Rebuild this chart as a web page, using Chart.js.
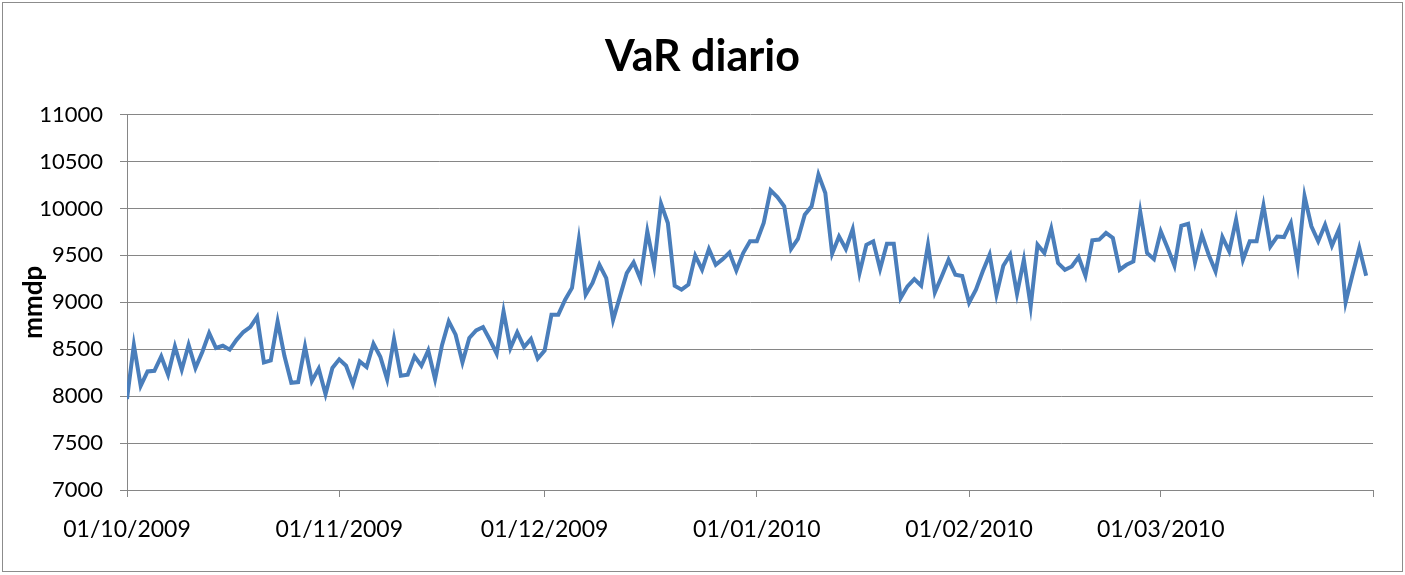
<!DOCTYPE html>
<html><head><meta charset="utf-8">
<script src="https://cdn.jsdelivr.net/npm/chart.js@4/dist/chart.umd.min.js"></script>
<style>html,body{margin:0;padding:0;background:#fff}canvas{display:block}</style>
</head><body>
<canvas id="c" width="1405" height="575"></canvas>
<script>
// Day offsets (from 01/10/2009) of the monthly ticks and their labels
const monthTickDays = [0, 31, 61, 92, 123, 151, 182];
const monthTickLabels = ['01/10/2009', '01/11/2009', '01/12/2009', '01/01/2010', '01/02/2010', '01/03/2010', ''];
// Daily VaR values (mmdp), one per day starting 01/10/2009
const varValues = [
  7970, 8545, 8110, 8263, 8270, 8423, 8228, 8530, 8281, 8548,
  8300, 8470, 8673, 8513, 8537, 8495, 8600, 8683, 8736, 8845,
  8360, 8381, 8797, 8427, 8143, 8150, 8530, 8160, 8293, 8020,
  8300, 8392, 8324, 8128, 8370, 8310, 8558, 8420, 8180, 8608,
  8217, 8228, 8424, 8324, 8487, 8180, 8540, 8797, 8655, 8360,
  8620, 8700, 8736, 8601, 8452, 8903, 8512, 8680, 8524, 8609,
  8400, 8485, 8868, 8868, 9028, 9153, 9668, 9081, 9206, 9400,
  9258, 8812, 9060, 9311, 9425, 9247, 9755, 9389, 10051, 9845,
  9177, 9135, 9188, 9497, 9347, 9568, 9400, 9460, 9530, 9340,
  9525, 9650, 9650, 9845, 10193, 10122, 10023, 9568, 9675, 9934,
  10023, 10360, 10165, 9518, 9702, 9568, 9778, 9311, 9613, 9650,
  9354, 9625, 9625, 9045, 9170, 9247, 9177, 9613, 9106, 9275,
  9453, 9293, 9280, 8995, 9135, 9330, 9507, 9081, 9389, 9507,
  9090, 9453, 8956, 9613, 9525, 9785, 9418, 9347, 9382, 9482,
  9282, 9660, 9668, 9739, 9685, 9347, 9400, 9435, 9965, 9525,
  9460, 9755, 9578, 9389, 9815, 9837, 9425, 9720, 9507, 9330,
  9695, 9542, 9880, 9453, 9650, 9650, 10030, 9595, 9700, 9695,
  9845, 9400, 10130, 9810, 9650, 9826, 9603, 9774, 9000, 9293,
  9578, 9282
];
const yMin = 7000, yMax = 11000, yStep = 500;

const FONT = "Lato, 'Liberation Sans', sans-serif";
const GRID = '#868686';

const borderPlugin = {
  id: 'outerBorder',
  beforeDraw(chart) {
    const ctx = chart.ctx;
    ctx.save();
    ctx.fillStyle = '#fff';
    ctx.fillRect(0, 0, chart.width, chart.height);
    ctx.strokeStyle = '#8c8c8c';
    ctx.lineWidth = 1;
    ctx.strokeRect(2.5, 2.5, chart.width - 5, chart.height - 6);
    ctx.restore();
  }
};

new Chart(document.getElementById('c'), {
  type: 'line',
  data: {
    datasets: [{
      label: 'VaR',
      data: varValues.map((v, i) => ({x: i, y: v})),
      borderColor: '#4A7EBB',
      borderWidth: 4,
      pointRadius: 0,
      tension: 0,
      fill: false
    }]
  },
  options: {
    responsive: false,
    animation: false,
    devicePixelRatio: 1,
    layout: {padding: {left: 0, right: 0, top: 0, bottom: 0}},
    plugins: {
      legend: {display: false},
      tooltip: {enabled: false},
      title: {
        display: true,
        text: 'VaR diario',
        color: '#000',
        font: {family: FONT, size: 43, weight: 'bold'},
        padding: {top: 31, bottom: 32}
      }
    },
    scales: {
      x: {
        type: 'linear',
        min: 0,
        max: 182,
        afterBuildTicks: (s) => { s.ticks = monthTickDays.map(v => ({value: v})); },
        afterFit: (s) => { s.height = 85; },
        ticks: {
          autoSkip: false,
          maxRotation: 0,
          padding: 19,
          color: '#000',
          font: {family: FONT, size: 23},
          callback: (v) => { const i = monthTickDays.indexOf(v); return i >= 0 ? monthTickLabels[i] : ''; }
        },
        grid: {drawOnChartArea: false, drawTicks: true, tickLength: 7, color: GRID, lineWidth: 1},
        border: {color: GRID, width: 1}
      },
      y: {
        min: yMin,
        max: yMax,
        afterFit: (s) => { s.width = 127; },
        ticks: {
          stepSize: yStep,
          padding: 17,
          color: '#000',
          font: {family: FONT, size: 22},
          callback: (v) => String(v)
        },
        title: {
          display: true,
          text: 'mmdp',
          color: '#000',
          font: {family: FONT, size: 26, weight: 'bold'},
          padding: {top: 18, bottom: 0}
        },
        grid: {color: GRID, lineWidth: 1, tickLength: 7},
        border: {color: GRID, width: 1}
      },
      yRight: {
        position: 'right',
        display: true,
        afterFit: (s) => { s.width = 32; },
        ticks: {display: false},
        grid: {display: false, drawTicks: false},
        border: {display: false}
      }
    }
  },
  plugins: [borderPlugin]
});
</script>
</body></html>
